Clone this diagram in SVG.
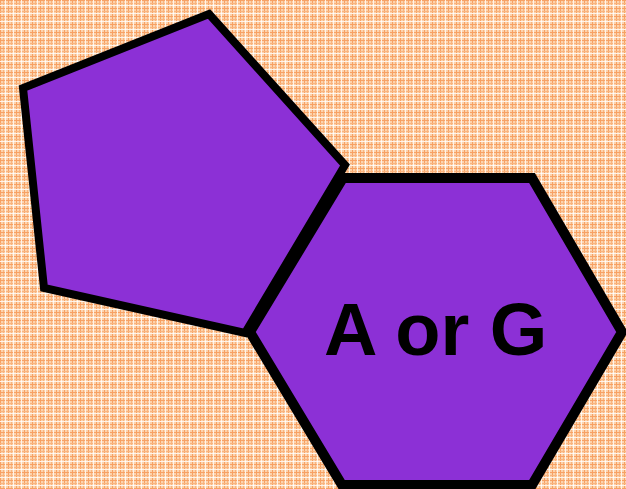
<svg xmlns="http://www.w3.org/2000/svg" width="626" height="489" viewBox="0 0 626 489">
<defs>
<pattern id="plaid" width="8" height="8" patternUnits="userSpaceOnUse">
<rect width="8" height="8" fill="#fcd3ad"/>
<rect x="0" y="0" width="1" height="8" fill="#f7a164"/>
<rect x="3" y="0" width="1" height="8" fill="#f9b47e"/>
<rect x="0" y="0" width="8" height="1" fill="#f7a164"/>
<rect x="0" y="3" width="8" height="1" fill="#f9b47e"/>
<rect x="5" y="0" width="1" height="8" fill="#fff3e8"/>
<rect x="0" y="5" width="8" height="1" fill="#fff3e8"/>
<rect x="5" y="5" width="1" height="1" fill="#ffffff"/>
</pattern>
<style>
.ring{fill:#8c30d6;stroke:#000;stroke-linejoin:miter}
.label{font-family:"Liberation Sans",Arial,sans-serif;font-weight:bold;font-size:74px;fill:#000}
</style>
</defs>
<rect width="626" height="489" fill="url(#plaid)"/>
<g id="pentagon">
<polygon class="ring" stroke-width="8" points="209,14 345,165 245,333 44,288 23,88"/>
</g>
<g id="hexagon">
<polygon class="ring" stroke-width="10" points="343,178 532,178 622,332 532,485 342,485 250,332"/>
<text class="label" x="324" y="355">A or G</text>
</g>
<g id="connectors"/>
</svg>
